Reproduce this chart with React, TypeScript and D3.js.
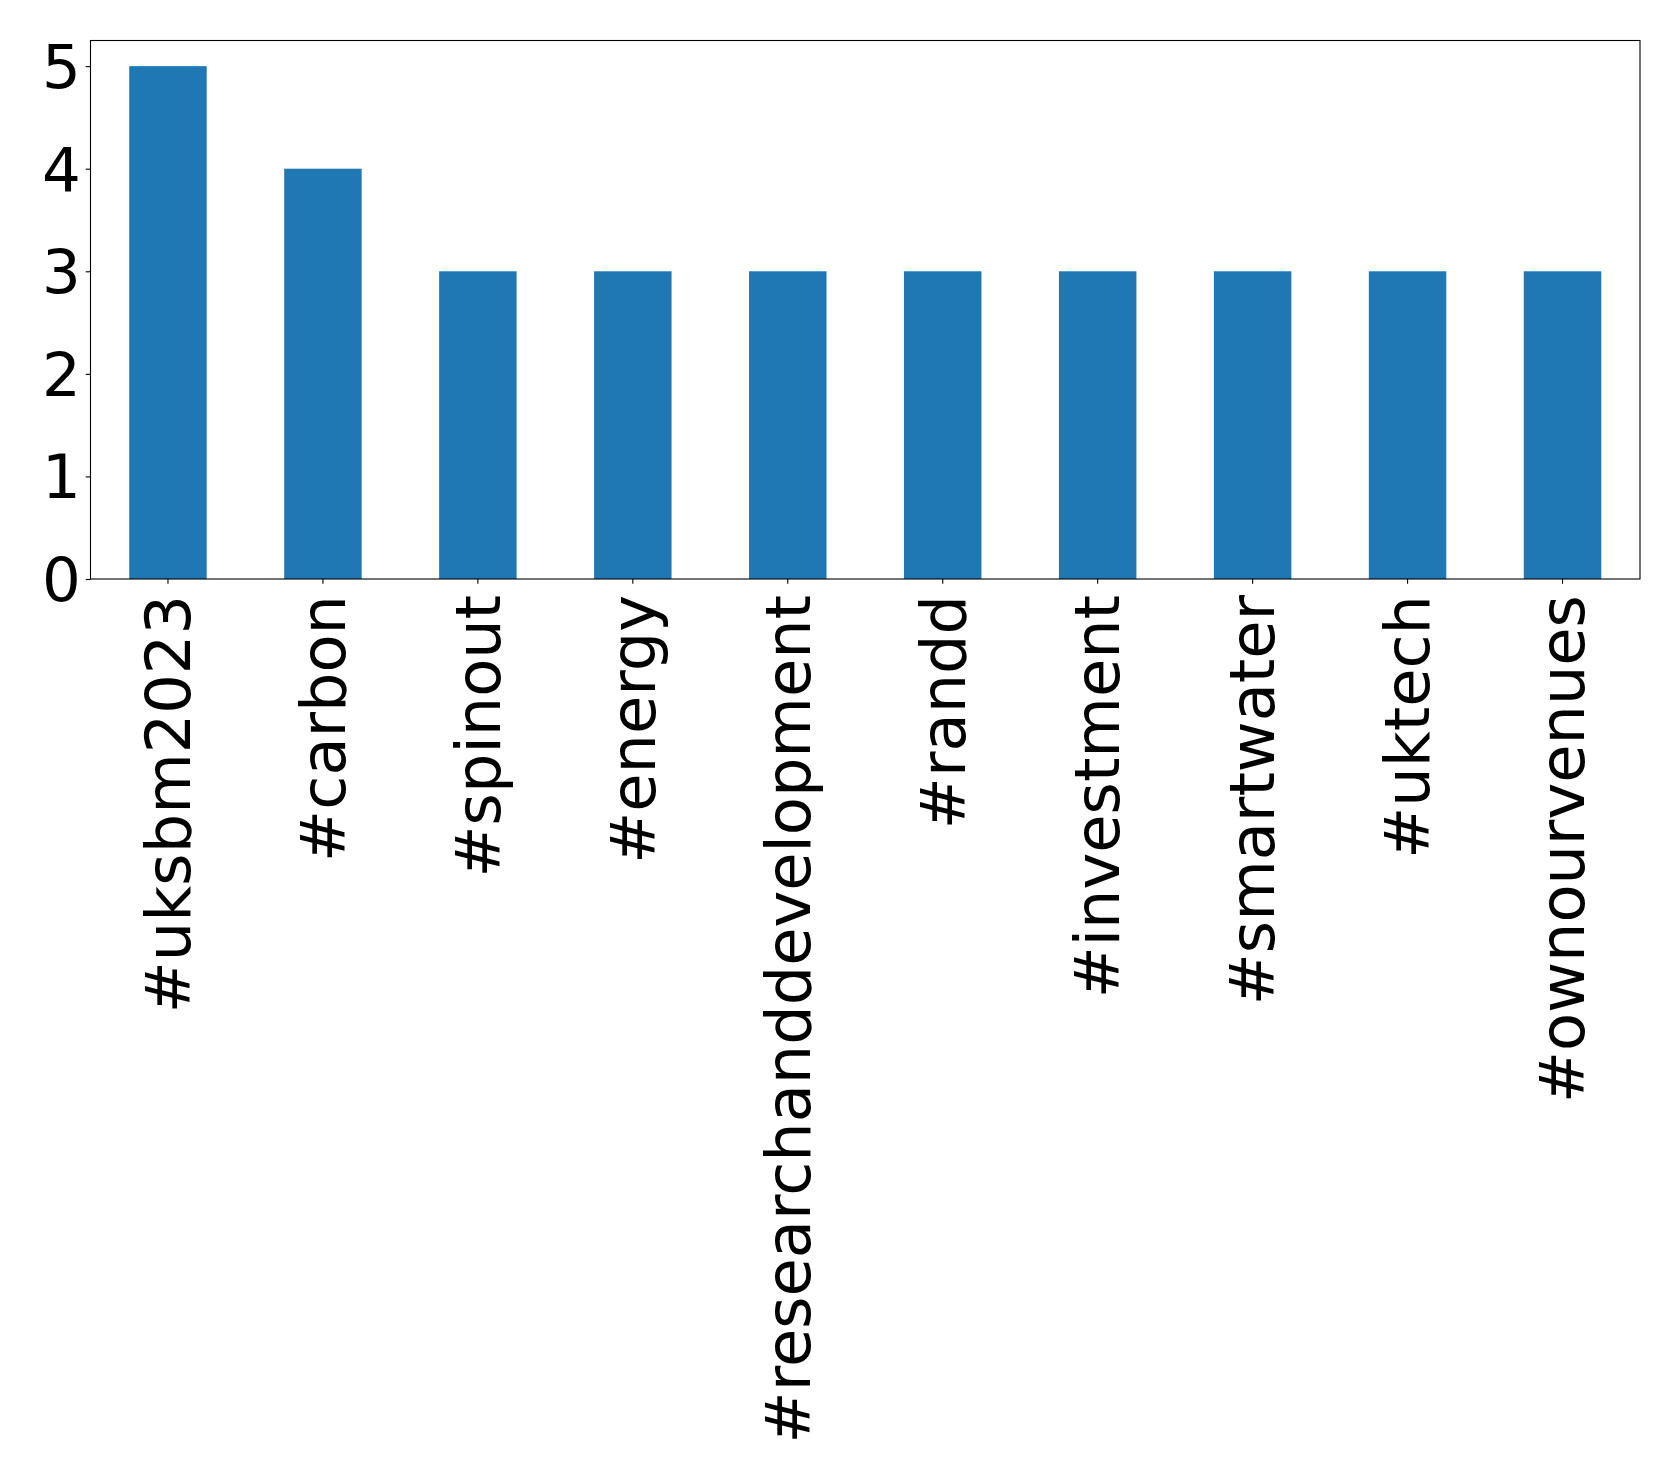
import React, { useEffect, useRef } from 'react'
import * as d3 from 'd3'

const hashtags = [
  '#uksbm2023',
  '#carbon',
  '#spinout',
  '#energy',
  '#researchanddevelopment',
  '#randd',
  '#investment',
  '#smartwater',
  '#uktech',
  '#ownourvenues'
]

const counts = [5, 4, 3, 3, 3, 3, 3, 3, 3, 3]

const yTicks = [0, 1, 2, 3, 4, 5]

const HashtagChart: React.FC = () => {
  const svgRef = useRef<SVGSVGElement>(null)

  useEffect(() => {
    if (!svgRef.current) return

    const svg = d3.select(svgRef.current)
    svg.selectAll('*').remove()

    const width = 1679
    const height = 1481
    const margin = { top: 40.5, right: 39, bottom: 902, left: 90.5 }
    const font = '"DejaVu Sans", sans-serif'

    svg.attr('width', width).attr('height', height)

    svg.append('rect')
      .attr('width', width)
      .attr('height', height)
      .attr('fill', '#fff')

    const x = d3.scaleBand<string>()
      .domain(hashtags)
      .range([margin.left, width - margin.right])
      .paddingInner(0.5)
      .paddingOuter(0.25)

    const y = d3.scaleLinear()
      .domain([0, 5.25])
      .range([height - margin.bottom, margin.top])

    // bars
    svg.append('g')
      .selectAll('rect')
      .data(hashtags)
      .enter()
      .append('rect')
      .attr('x', d => x(d)!)
      .attr('y', (d, i) => y(counts[i]))
      .attr('width', x.bandwidth())
      .attr('height', (d, i) => y(0) - y(counts[i]))
      .attr('fill', '#1f77b4')

    // y axis
    const yAxis = svg.append('g')
      .attr('transform', `translate(${margin.left},0)`)
      .call(d3.axisLeft(y).tickValues(yTicks).tickSize(4.8).tickPadding(4.8).tickFormat(d3.format('d')))
    yAxis.select('.domain').remove()
    yAxis.selectAll('line').attr('stroke', '#000').attr('stroke-width', 1.1)
    yAxis.selectAll('text')
      .attr('font-family', font)
      .attr('font-size', 61)
      .attr('fill', '#000')
      .attr('dy', '0.35em')

    // x axis, labels rotated to read upwards
    const xAxis = svg.append('g')
      .attr('transform', `translate(0,${y(0)})`)
      .call(d3.axisBottom(x).tickSize(4.8).tickPadding(4.8))
    xAxis.select('.domain').remove()
    xAxis.selectAll('line').attr('stroke', '#000').attr('stroke-width', 1.1)
    xAxis.selectAll('text')
      .attr('font-family', font)
      .attr('font-size', 62.2)
      .attr('fill', '#000')
      .attr('transform', 'rotate(-90)')
      .attr('x', -16)
      .attr('y', 0)
      .attr('dy', '0.35em')
      .style('text-anchor', 'end')

    // frame
    svg.append('rect')
      .attr('x', margin.left)
      .attr('y', margin.top)
      .attr('width', width - margin.right - margin.left)
      .attr('height', y(0) - margin.top)
      .attr('fill', 'none')
      .attr('stroke', '#000')
      .attr('stroke-width', 1.1)
  }, [])

  return (
    <div style={{ position: 'absolute', left: 0, top: 0 }}>
      <svg ref={svgRef}></svg>
    </div>
  )
}

export default function App() {
  return <HashtagChart />
}
